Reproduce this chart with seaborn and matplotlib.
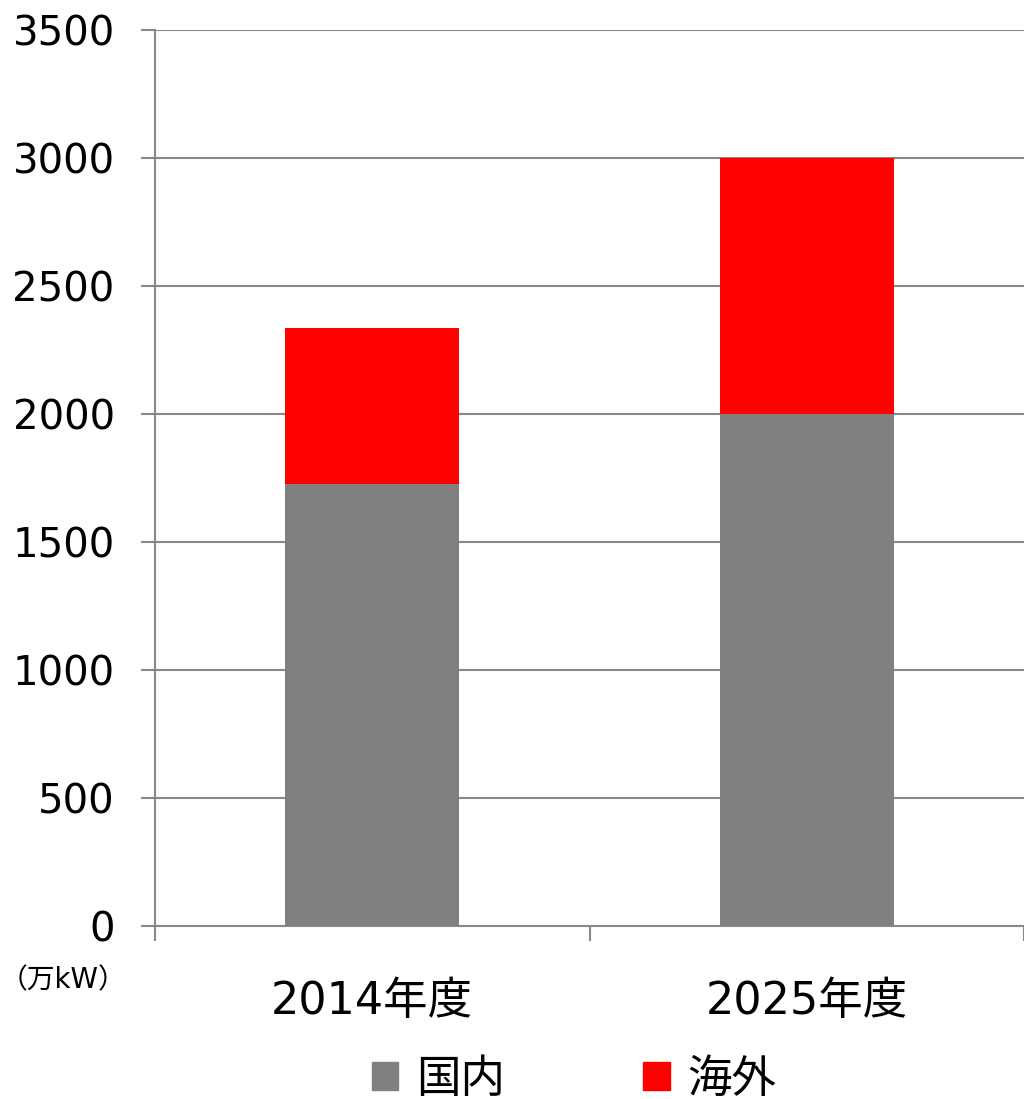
import matplotlib
matplotlib.use("Agg")
import matplotlib.pyplot as plt
import seaborn as sns
import pandas as pd
from matplotlib.patches import Patch

# data (万kW)
years = ['2014年度', '2025年度']
domestic = [1725, 2000]
overseas = [610, 1000]
y_ticks = [0, 500, 1000, 1500, 2000, 2500, 3000, 3500]

sns.set_theme(style='white')
plt.rcParams['font.family'] = ['DejaVu Sans', 'Noto Sans CJK JP']
plt.rcParams['text.color'] = 'black'
plt.rcParams['xtick.color'] = 'black'
plt.rcParams['ytick.color'] = 'black'

df = pd.DataFrame({'year': years, 'domestic': domestic, 'overseas': overseas})
df['total'] = df['domestic'] + df['overseas']

fig = plt.figure(figsize=(10.24, 10.99), dpi=100)
ax = fig.add_axes([155 / 1024, 173 / 1099, 869 / 1024, 896 / 1099])

grid_col = '#898989'
for t in y_ticks[1:]:
    ax.axhline(t, color=grid_col, lw=1.5, zorder=0)

# stacked: total in red, domestic drawn over it in grey
sns.barplot(data=df, x='year', y='total', color='#FF0000', saturation=1,
            width=0.4, linewidth=0, ax=ax, zorder=2)
sns.barplot(data=df, x='year', y='domestic', color='#808080', saturation=1,
            width=0.4, linewidth=0, ax=ax, zorder=3)

ax.set_xlim(-0.5, 1.5)
ax.set_ylim(0, 3500)
ax.set_yticks(y_ticks)
ax.set_xlabel('')
ax.set_ylabel('')

for s in ['top', 'right']:
    ax.spines[s].set_visible(False)
for s in ['left', 'bottom']:
    ax.spines[s].set_color(grid_col)
    ax.spines[s].set_linewidth(1.5)

ax.set_xticks([-0.5, 0.5, 1.5], minor=True)
ax.tick_params(axis='x', which='major', length=0, labelsize=32, pad=39)
ax.tick_params(axis='x', which='minor', length=11, width=1.5, color=grid_col,
               direction='out', bottom=True)
ax.tick_params(axis='y', length=10, width=1.5, color=grid_col, labelsize=29,
               labelcolor='black', pad=19, left=True)
ax.tick_params(axis='x', labelcolor='black')

fig.text(0, 1 - 980 / 1099, '（万kW）', fontsize=20, va='center', ha='left')

handles = [Patch(color='#808080', label='国内'), Patch(color='#FF0000', label='海外')]
fig.legend(handles=handles, loc='center', bbox_to_anchor=(574 / 1024, 1 - 1079 / 1099),
           ncol=2, frameon=False, fontsize=32, handlelength=0.6, handleheight=0.6,
           handletextpad=0.4, columnspacing=3.1)

fig.savefig('out.png', dpi=100)
